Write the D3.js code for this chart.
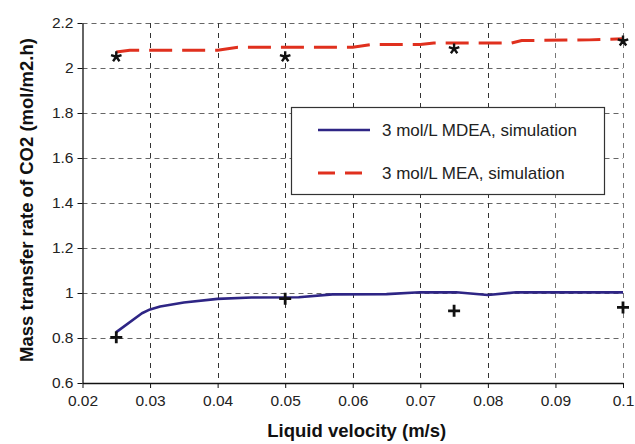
<!DOCTYPE html>
<html>
<head>
<meta charset="utf-8">
<script src="https://cdn.jsdelivr.net/npm/d3@7"></script>
<style>
  html, body { margin: 0; padding: 0; background: #fff; }
  svg { display: block; }
  text { font-family: "Liberation Sans", Arial, Helvetica, sans-serif; }
</style>
</head>
<body>
<svg id="chart" width="635" height="444"></svg>
<script>
// ---- data ----
const xTicks = [0.02, 0.03, 0.04, 0.05, 0.06, 0.07, 0.08, 0.09, 0.1];
const xTickLabels = ["0.02", "0.03", "0.04", "0.05", "0.06", "0.07", "0.08", "0.09", "0.1"];
const yTicks = [0.6, 0.8, 1.0, 1.2, 1.4, 1.6, 1.8, 2.0, 2.2];
const yTickLabels = ["0.6", "0.8", "1", "1.2", "1.4", "1.6", "1.8", "2", "2.2"];

const mdeaSimX = [0.025, 0.0288, 0.030, 0.0315, 0.035, 0.040, 0.045, 0.052, 0.057, 0.065, 0.070, 0.0753, 0.080, 0.0842, 0.090, 0.100];
const mdeaSimY = [0.826, 0.910, 0.927, 0.940, 0.958, 0.974, 0.980, 0.981, 0.994, 0.995, 1.003, 1.003, 0.991, 1.003, 1.003, 1.003];

const meaSimX = [0.025, 0.027, 0.040, 0.043, 0.060, 0.063, 0.070, 0.072, 0.0835, 0.085, 0.095, 0.100];
const meaSimY = [2.071, 2.079, 2.079, 2.092, 2.092, 2.105, 2.105, 2.111, 2.111, 2.122, 2.125, 2.130];

const mdeaExpX = [0.025, 0.050, 0.075, 0.100];
const mdeaExpY = [0.803, 0.975, 0.921, 0.936];

const meaExpX = [0.025, 0.050, 0.075, 0.100];
const meaExpY = [2.050, 2.050, 2.085, 2.120];

const legendLabels = ["3 mol/L MDEA, simulation", "3 mol/L MEA, simulation"];

// ---- layout ----
const svg = d3.select("#chart");
const L = 82.5, R = 623, T = 23, B = 383;
const x = d3.scaleLinear().domain([0.02, 0.1]).range([L, R]);
const y = d3.scaleLinear().domain([0.6, 2.2]).range([B, T]);

// grid
const grid = svg.append("g");
grid.selectAll("line.h").data(yTicks.filter(v => v > 0.6)).enter().append("line")
  .attr("x1", L).attr("x2", R)
  .attr("y1", d => Math.round(y(d)) + 0.5).attr("y2", d => Math.round(y(d)) + 0.5)
  .attr("stroke", "#666").attr("stroke-width", 1).attr("stroke-dasharray", "5,4");
grid.selectAll("line.v").data(xTicks.filter(v => v > 0.02)).enter().append("line")
  .attr("y1", T).attr("y2", B)
  .attr("x1", d => Math.round(x(d)) + 0.5).attr("x2", d => Math.round(x(d)) + 0.5)
  .attr("stroke", (d, i) => d >= 0.09 ? "#777" : "#333").attr("stroke-width", 1).attr("stroke-dasharray", "5,5");

// axes
const xAxis = d3.axisBottom(x).tickValues(xTicks).tickFormat((d, i) => xTickLabels[i]).tickSize(5).tickSizeOuter(0);
const yAxis = d3.axisLeft(y).tickValues(yTicks).tickFormat((d, i) => yTickLabels[i]).tickSize(5).tickSizeOuter(0);

const gx = svg.append("g").attr("transform", `translate(0,${B})`).call(xAxis);
const gy = svg.append("g").attr("transform", `translate(${L},0)`).call(yAxis);
[gx, gy].forEach(g => {
  g.select(".domain").attr("stroke", "#111").attr("stroke-width", 1.3);
  g.selectAll(".tick line").attr("stroke", "#111");
  g.selectAll(".tick text").attr("fill", "#222").style("font-size", "15.5px")
    .style("font-family", '"Liberation Sans", Arial, sans-serif');
});
gx.selectAll(".tick text").attr("dy", "0.71em").attr("y", 12);
gy.selectAll(".tick text").attr("x", -9);

// axis titles
svg.append("text").attr("x", (L + R) / 2 + 4).attr("y", 437)
  .attr("text-anchor", "middle").attr("font-weight", "bold").attr("font-size", "18.5px").attr("fill", "#111")
  .text("Liquid velocity (m/s)");
svg.append("text").attr("transform", `translate(33,${(T + B) / 2 - 3}) rotate(-90)`)
  .attr("text-anchor", "middle").attr("font-weight", "bold").attr("font-size", "18.5px").attr("fill", "#111")
  .text("Mass transfer rate of CO2 (mol/m2.h)");

// lines
const line = d3.line().x(d => x(d[0])).y(d => y(d[1]));
const mdeaData = mdeaSimX.map((v, i) => [v, mdeaSimY[i]]);
const meaData = meaSimX.map((v, i) => [v, meaSimY[i]]);

svg.append("path").datum(mdeaData).attr("d", line)
  .attr("fill", "none").attr("stroke", "#2e2585").attr("stroke-width", 2.6).attr("stroke-linejoin", "round");
svg.append("path").datum(meaData).attr("d", line)
  .attr("fill", "none").attr("stroke", "#e0301e").attr("stroke-width", 3).attr("stroke-dasharray", "23,10");

// markers: plus (MDEA exp)
const plusG = svg.append("g");
mdeaExpX.forEach((v, i) => {
  const cx = x(v), cy = y(mdeaExpY[i]), s = 6;
  plusG.append("path").attr("d", `M${cx - s},${cy}H${cx + s}M${cx},${cy - s}V${cy + s}`)
    .attr("stroke", "#111").attr("stroke-width", 2.8).attr("fill", "none");
});
// markers: asterisk (MEA exp)
const starG = svg.append("g");
meaExpX.forEach((v, i) => {
  const cx = x(v), cy = y(meaExpY[i]), r = 5.5;
  let d = "";
  for (let k = 0; k < 5; k++) {
    const a = (-90 + k * 72) * Math.PI / 180;
    d += `M${cx},${cy}L${cx + r * Math.cos(a)},${cy + r * Math.sin(a)}`;
  }
  starG.append("path").attr("d", d).attr("stroke", "#111").attr("stroke-width", 2.4).attr("fill", "none");
});

// legend
const lg = svg.append("g");
lg.append("rect").attr("x", 291.5).attr("y", 107.5).attr("width", 313).attr("height", 87)
  .attr("fill", "#fff").attr("stroke", "#333").attr("stroke-width", 1.2);
const legStyles = [
  { stroke: "#2e2585", width: 2.6, dash: null },
  { stroke: "#e0301e", width: 3, dash: "17,10" }
];
legendLabels.forEach((lab, i) => {
  const ly = 130 + i * 43;
  lg.append("line").attr("x1", 318).attr("x2", 370).attr("y1", ly).attr("y2", ly)
    .attr("stroke", legStyles[i].stroke).attr("stroke-width", legStyles[i].width)
    .attr("stroke-dasharray", legStyles[i].dash);
  lg.append("text").attr("x", 382).attr("y", ly + 6).attr("font-size", "17px").attr("fill", "#222").text(lab);
});
</script>
</body>
</html>
